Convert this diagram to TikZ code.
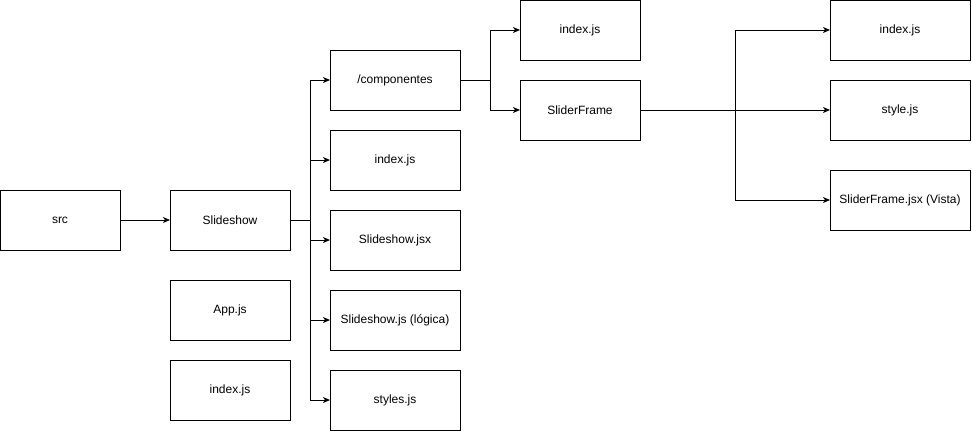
\documentclass[tikz,border=0pt]{standalone}
\usepackage{fontspec}
\setmainfont{Liberation Sans}
\usetikzlibrary{arrows.meta}
\begin{document}
\begin{tikzpicture}[x=1pt,y=-1pt,
  box/.style={draw=black,line width=1pt,fill=white,minimum height=60pt,inner sep=0pt,outer sep=0pt,font=\fontsize{12}{14}\selectfont},
  bw/.style={minimum width=120pt},
  ww/.style={minimum width=130pt},
  rw/.style={minimum width=140pt},
  conn/.style={line width=1pt,-{Stealth[length=7pt,width=6pt,inset=2pt]}},
  plain/.style={line width=1pt}]
\useasboundingbox (0,0) rectangle (972,432);
\node[box,bw] (src) at (60,220) {src};
\node[box,bw] (slide) at (230,220) {Slideshow};
\node[box,bw] (app) at (230,310) {App.js};
\node[box,bw] (idx0) at (230,390) {index.js};
\node[box,ww] (comp) at (395,80) {/componentes};
\node[box,ww] (idx1) at (395,160) {index.js};
\node[box,ww] (sjsx) at (395,240) {Slideshow.jsx};
\node[box,ww] (sjs) at (395,320) {Slideshow.js (lógica)};
\node[box,ww] (sty) at (395,400) {styles.js};
\node[box,bw] (idx2) at (580,30) {index.js};
\node[box,bw] (sf) at (580,110) {SliderFrame};
\node[box,rw] (idx3) at (900,30) {index.js};
\node[box,rw] (style) at (900,110) {style.js};
\node[box,rw] (sfjsx) at (900,200) {SliderFrame.jsx (Vista)};
\draw[conn] (src) -- (slide);
\coordinate (j1) at (310,220);
\draw[plain] (slide.east) -- (j1);
\foreach \t in {comp,idx1,sjsx,sjs,sty}{\draw[conn] (j1) |- (\t.west);}
\coordinate (j2) at (490,80);
\draw[plain] (comp.east) -- (j2);
\foreach \t in {idx2,sf}{\draw[conn] (j2) |- (\t.west);}
\coordinate (j3) at (735,110);
\draw[conn] (sf.east) -- (style.west);
\foreach \t in {idx3,sfjsx}{\draw[conn] (j3) |- (\t.west);}
\end{tikzpicture}
\end{document}
